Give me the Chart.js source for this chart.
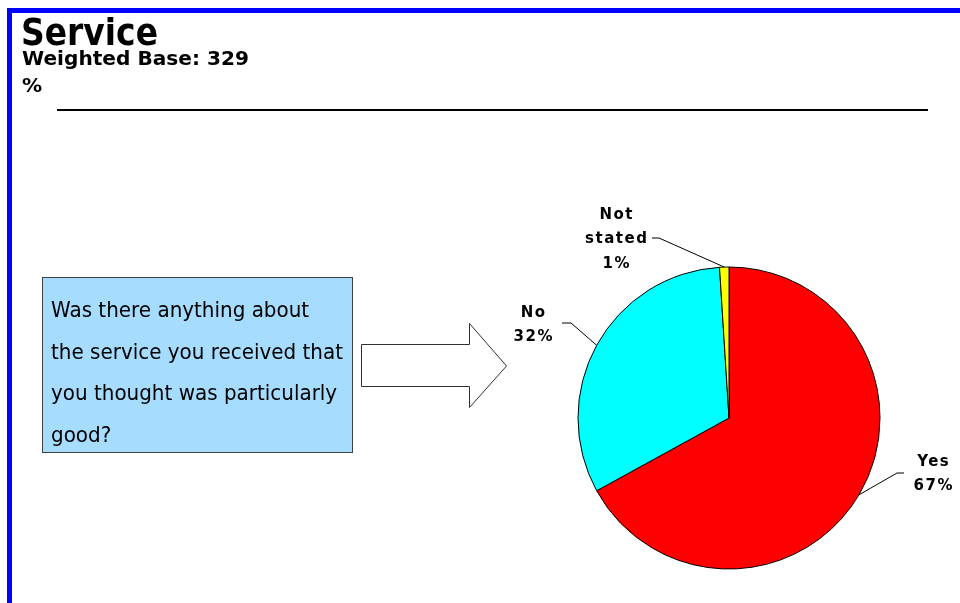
<!DOCTYPE html>
<html>
<head>
<meta charset="utf-8">
<title>Service</title>
<script src="https://cdn.jsdelivr.net/npm/chart.js@4/dist/chart.umd.min.js"></script>
<style>
  html, body { margin: 0; padding: 0; background: #fff; }
  canvas { display: block; }
</style>
</head>
<body>
<canvas id="serviceChart" width="960" height="603"></canvas>
<script>
// answers and their share of the weighted base (%)
const categories = ['Yes', 'No', 'Not stated'];
const shares = [67, 32, 1];
const sliceColors = ['#ff0000', '#00ffff', '#ffff00'];

const titleText = 'Service';
const baseText = 'Weighted Base: 329';
const unitText = '%';
const questionLines = [
  'Was there anything about',
  'the service you received that',
  'you thought was particularly',
  'good?'
];

// where each slice label sits and where its leader line bends
const labelSpots = [
  { x: 933, y: 466, elbowX: 897, elbowY: 473, tailX: 904 },
  { x: 533, y: 317, elbowX: 571, elbowY: 323, tailX: 562 },
  { x: 616, y: 219, elbowX: 659, elbowY: 238, tailX: 652 }
];

// squeeze text horizontally so it fills a given width
function fitText(ctx, text, x, y, width) {
  const w = ctx.measureText(text).width;
  ctx.save();
  ctx.translate(x, y);
  ctx.scale(width / w, 1);
  ctx.fillText(text, 0, 0);
  ctx.restore();
}

const pageDecor = {
  id: 'pageDecor',
  beforeDraw(chart) {
    const ctx = chart.ctx;
    ctx.save();
    ctx.fillStyle = '#fff';
    ctx.fillRect(0, 0, chart.width, chart.height);

    // blue frame, top and left
    ctx.fillStyle = '#0000ff';
    ctx.fillRect(7, 8, 953, 5);
    ctx.fillRect(7, 8, 5, 595);

    // headings
    ctx.fillStyle = '#000';
    ctx.textBaseline = 'alphabetic';
    ctx.textAlign = 'left';
    ctx.font = 'bold 38px "DejaVu Sans"';
    fitText(ctx, titleText, 21, 45, 137);
    ctx.font = 'bold 19px "DejaVu Sans"';
    const sx = 227 / ctx.measureText(baseText).width;
    fitText(ctx, baseText, 22, 65, 227);
    fitText(ctx, unitText, 22, 92, ctx.measureText(unitText).width * sx);

    // rule under the heading
    ctx.fillRect(57, 109, 871, 2);

    // question box
    ctx.fillStyle = '#a6dcfe';
    ctx.fillRect(42, 277, 310, 175);
    ctx.strokeStyle = '#404040';
    ctx.lineWidth = 1;
    ctx.strokeRect(42.5, 277.5, 310, 175);
    ctx.fillStyle = '#000';
    ctx.font = '22px "DejaVu Sans"';
    const qs = 292 / ctx.measureText(questionLines[1]).width;
    questionLines.forEach((line, i) => {
      fitText(ctx, line, 51, 317 + i * 41.5, ctx.measureText(line).width * qs);
    });

    // block arrow pointing at the pie
    ctx.beginPath();
    ctx.moveTo(361.5, 344.5);
    ctx.lineTo(469.5, 344.5);
    ctx.lineTo(469.5, 323.5);
    ctx.lineTo(506.5, 366);
    ctx.lineTo(469.5, 407.5);
    ctx.lineTo(469.5, 386.5);
    ctx.lineTo(361.5, 386.5);
    ctx.closePath();
    ctx.fillStyle = '#fff';
    ctx.fill();
    ctx.strokeStyle = '#303030';
    ctx.stroke();
    ctx.restore();
  }
};

// slice labels with leader lines from the middle of each arc
const sliceLabels = {
  id: 'sliceLabels',
  afterDatasetsDraw(chart) {
    const ctx = chart.ctx;
    const arcs = chart.getDatasetMeta(0).data;
    ctx.save();
    arcs.forEach((arc, i) => {
      const spot = labelSpots[i];
      const mid = (arc.startAngle + arc.endAngle) / 2;
      const ax = arc.x + Math.cos(mid) * arc.outerRadius;
      const ay = arc.y + Math.sin(mid) * arc.outerRadius;
      ctx.strokeStyle = '#000';
      ctx.lineWidth = 1;
      ctx.beginPath();
      ctx.moveTo(ax, ay);
      ctx.lineTo(spot.elbowX, spot.elbowY);
      ctx.lineTo(spot.tailX, spot.elbowY);
      ctx.stroke();

      const lines = categories[i].split(' ').concat([shares[i] + '%']);
      ctx.fillStyle = '#000';
      ctx.font = 'bold 15px "DejaVu Sans"';
      ctx.letterSpacing = '1.5px';
      ctx.textAlign = 'center';
      ctx.textBaseline = 'alphabetic';
      lines.forEach((line, j) => {
        ctx.fillText(line, spot.x + 0.75, spot.y + j * 24.3);
      });
    });
    ctx.restore();
  }
};

new Chart(document.getElementById('serviceChart'), {
  type: 'pie',
  data: {
    labels: categories,
    datasets: [{
      data: shares,
      backgroundColor: sliceColors,
      borderColor: '#000',
      borderWidth: 1
    }]
  },
  options: {
    responsive: false,
    animation: false,
    radius: 151,
    layout: { padding: { left: 578, right: 80, top: 267, bottom: 34 } },
    plugins: {
      legend: { display: false },
      tooltip: { enabled: false }
    }
  },
  plugins: [pageDecor, sliceLabels]
});
</script>
</body>
</html>
